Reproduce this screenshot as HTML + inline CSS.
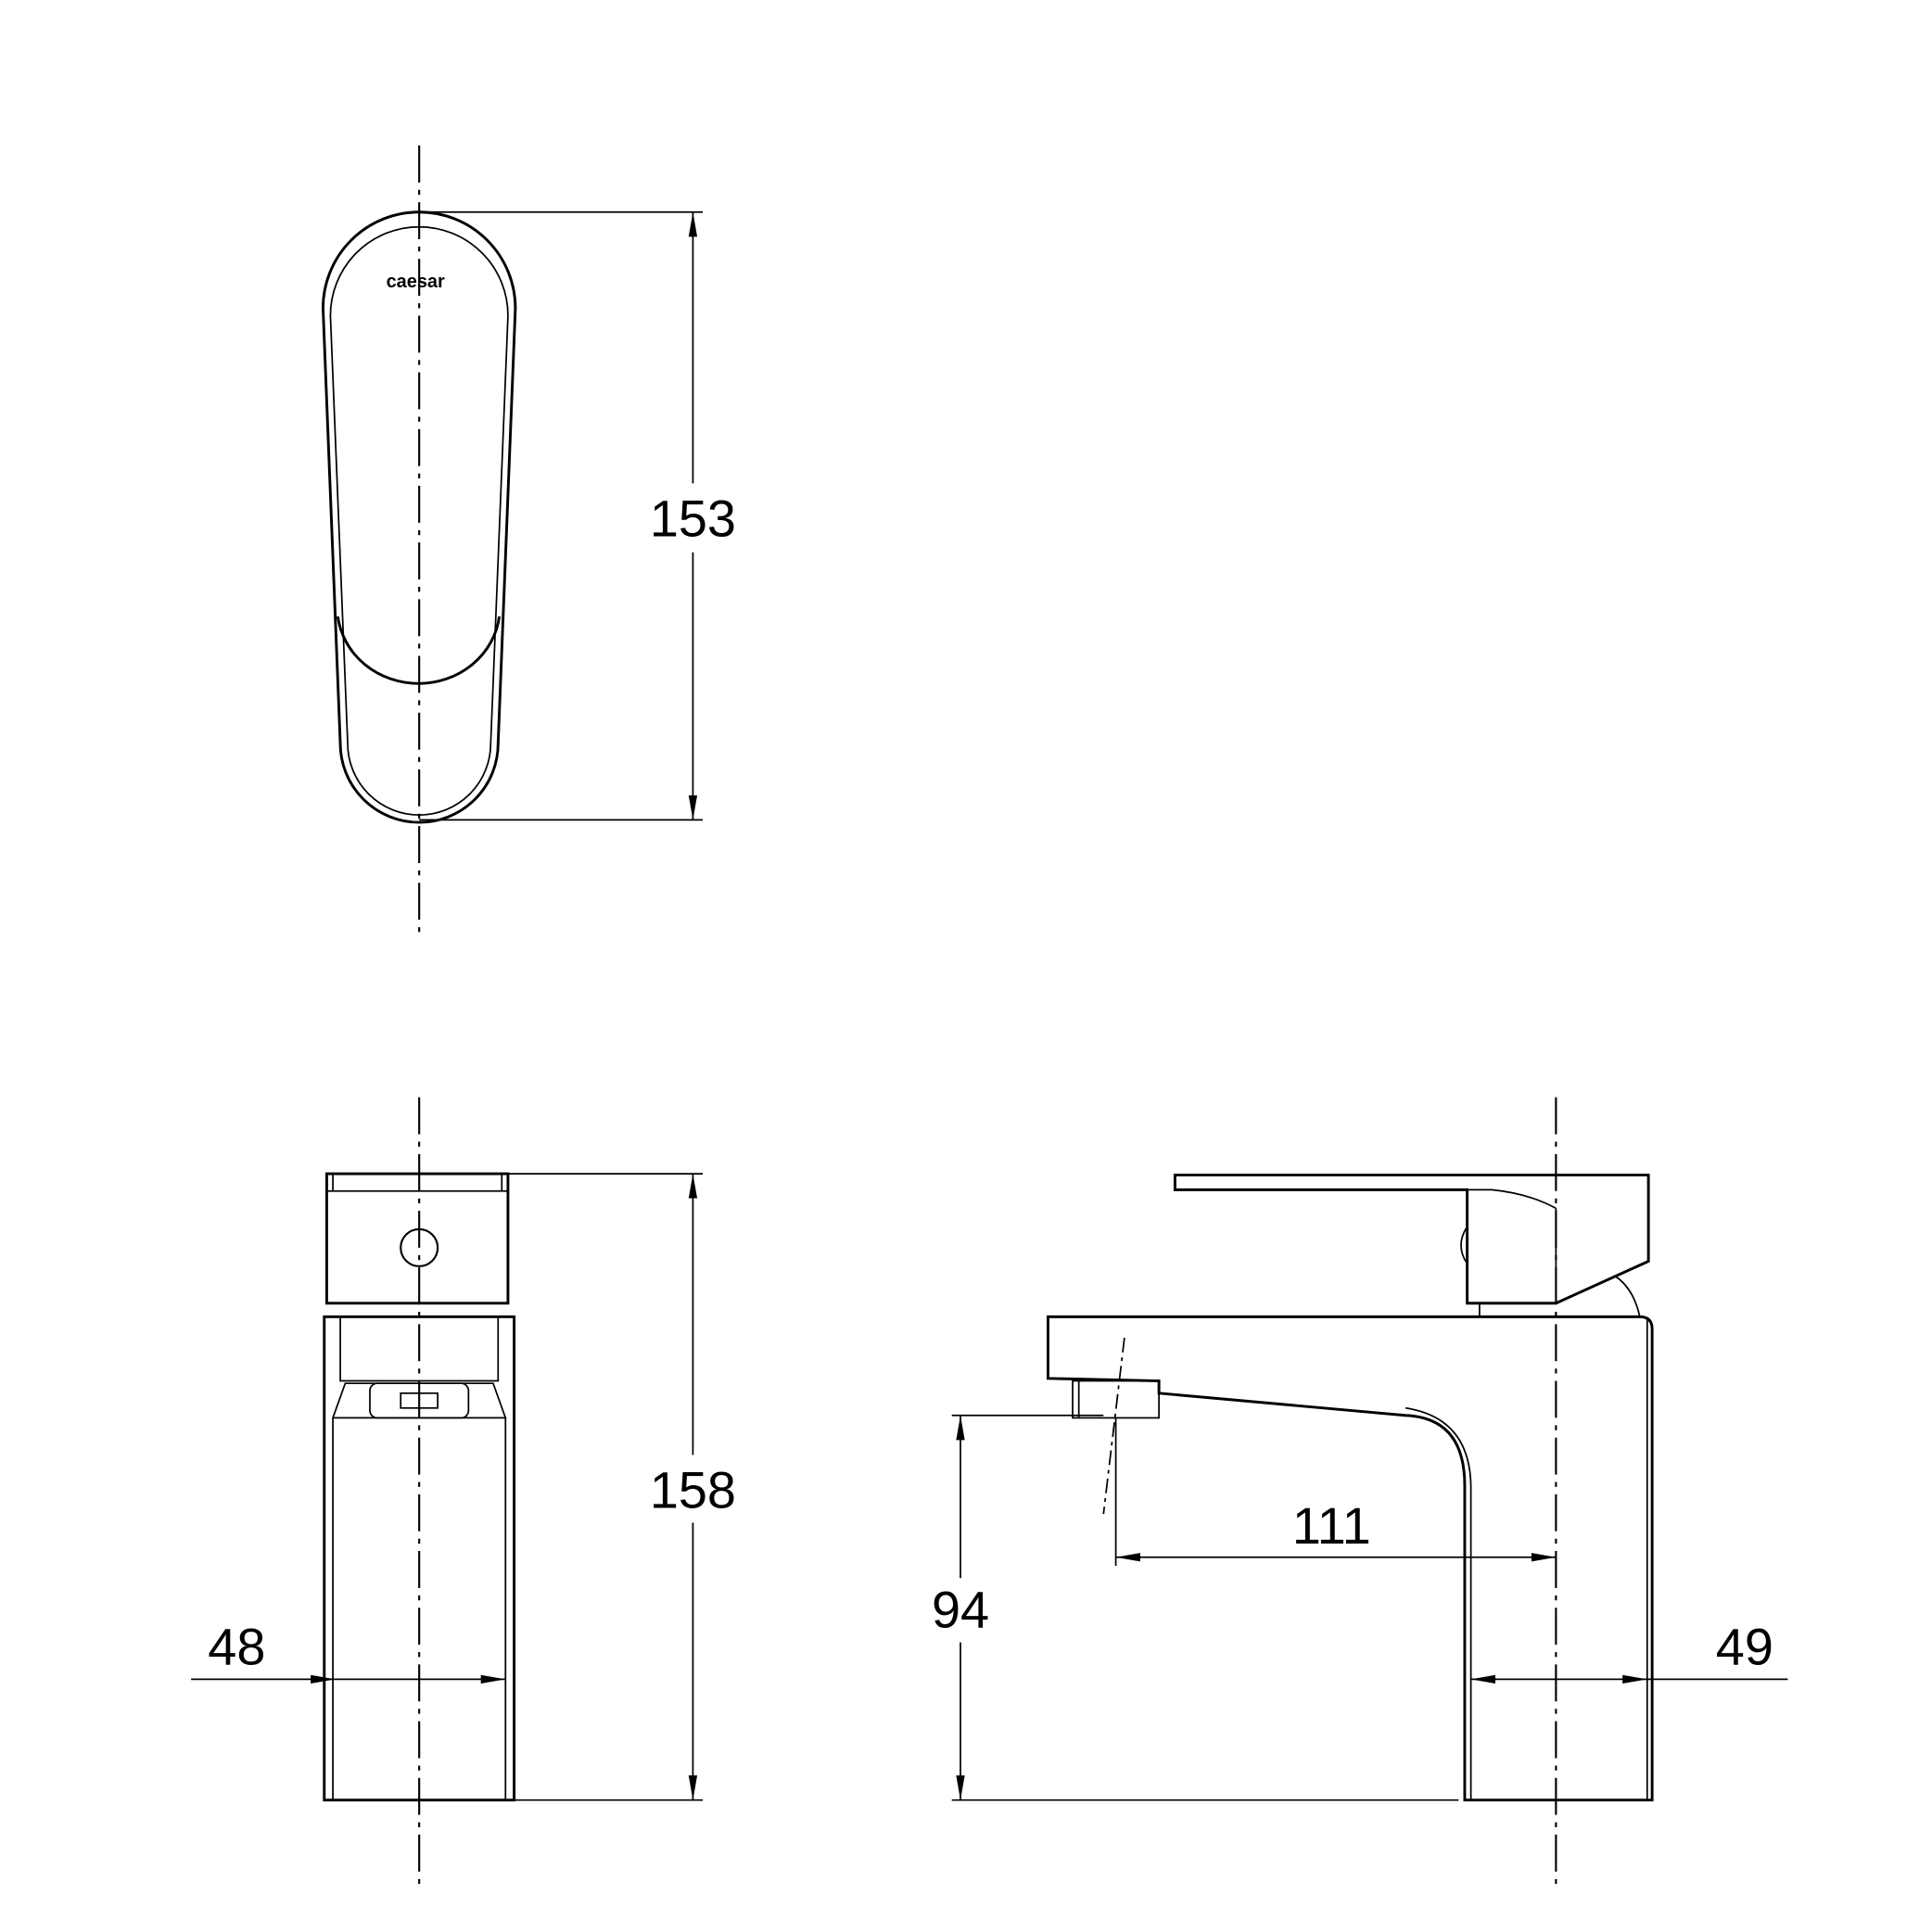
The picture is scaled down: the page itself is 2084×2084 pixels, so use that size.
<!DOCTYPE html>
<html><head><meta charset="utf-8"><style>
html,body{margin:0;padding:0;background:#fff;}
svg{display:block;}
text{font-family:"Liberation Sans",sans-serif;fill:#000;}
</style></head><body>
<svg width="2084" height="2084" viewBox="0 0 1567 1567" xmlns="http://www.w3.org/2000/svg">
<defs>
<marker id="a" viewBox="0 0 20 10" refX="20" refY="5" markerWidth="20" markerHeight="10" markerUnits="userSpaceOnUse" orient="auto-start-reverse"><path d="M0,1.5 L20,5 L0,8.5 Z" fill="#000"/></marker>
</defs>
<g fill="none" stroke="#000" stroke-width="2.2">
<g stroke-width="1.6" stroke-dasharray="30,6,4,6">
<line x1="340" y1="118" x2="340" y2="757"/>
<line x1="340" y1="890" x2="340" y2="1530"/>
<line x1="1262" y1="890" x2="1262" y2="1530"/>
</g>
<path d="M262,250 A78,78 0 0 1 418,250 L404,603 A64,64 0 0 1 276,603 Z"/>
<path d="M268,256 A72,72 0 0 1 412,256 L398,603 A58,58 0 0 1 282,603 Z" stroke-width="1.3"/>
<path d="M274,500 A66,62 0 0 0 405,500" />
<g stroke-width="1.3">
<line x1="340" y1="172" x2="570" y2="172"/>
<line x1="340" y1="665" x2="570" y2="665"/>
<line x1="562" y1="172" x2="562" y2="392" marker-start="url(#a)"/>
<line x1="562" y1="448" x2="562" y2="665" marker-end="url(#a)"/>
</g>
<rect x="265" y="952" width="147" height="105"/>
<line x1="265" y1="966" x2="412" y2="966" stroke-width="1.3"/>
<line x1="270" y1="952" x2="270" y2="966" stroke-width="1.3"/>
<line x1="407" y1="952" x2="407" y2="966" stroke-width="1.3"/>
<circle cx="340" cy="1012" r="15" stroke-width="1.6"/>
<rect x="263" y="1068" width="154" height="392"/>
<line x1="270" y1="1150" x2="270" y2="1460" stroke-width="1.3"/>
<line x1="410" y1="1150" x2="410" y2="1460" stroke-width="1.3"/>
<path d="M276,1068 L276,1120 L404,1120 L404,1068" stroke-width="1.3"/>
<path d="M270,1150 L280,1122 L400,1122 L410,1150 Z" stroke-width="1.3"/>
<rect x="300" y="1122" width="80" height="28" rx="6" stroke-width="1.3"/>
<rect x="325" y="1130" width="30" height="12" stroke-width="1.3"/>
<g stroke-width="1.3">
<line x1="412" y1="952" x2="570" y2="952"/>
<line x1="417" y1="1460" x2="570" y2="1460"/>
<line x1="562" y1="952" x2="562" y2="1180" marker-start="url(#a)"/>
<line x1="562" y1="1235" x2="562" y2="1460" marker-end="url(#a)"/>
<line x1="155" y1="1362" x2="272" y2="1362" marker-end="url(#a)"/>
<line x1="272" y1="1362" x2="410" y2="1362" marker-end="url(#a)"/>
</g>
<path d="M953,953 L1337,953 L1337,1023 L1262,1057 L1190,1057 L1190,965 L953,965 Z"/>
<path d="M1190,965 L1210,965 Q1240,968 1262,980" stroke-width="1.3"/>
<line x1="1262" y1="980" x2="1262" y2="1057" stroke-width="1.3"/>
<path d="M1190,995 Q1180,1010 1190,1025" stroke-width="1.3"/>
<path d="M1310,1035 Q1325,1045 1330,1068" stroke-width="1.3"/>
<line x1="1200" y1="1057" x2="1200" y2="1068" stroke-width="1.3"/>
<path d="M850,1068 L1330,1068 Q1340,1068 1340,1078 L1340,1460 L1188,1460 L1188,1205 Q1188,1150 1140,1148 L940,1130 L940,1120 L850,1118 Z"/>
<path d="M1140,1142 Q1192,1150 1193,1205 L1193,1460" stroke-width="1.3"/>
<line x1="1336" y1="1070" x2="1336" y2="1460" stroke-width="1.3"/>
<rect x="870" y="1120" width="70" height="30" stroke-width="1.3"/>
<line x1="875" y1="1120" x2="875" y2="1150" stroke-width="1.3"/>
<g stroke-width="1.3">
<line x1="912" y1="1085" x2="895" y2="1228" stroke-dasharray="12,4,3,4"/>
<line x1="905" y1="1150" x2="905" y2="1270"/>
<line x1="772" y1="1148" x2="895" y2="1148"/>
<line x1="772" y1="1460" x2="1183" y2="1460"/>
<line x1="779" y1="1148" x2="779" y2="1280" marker-start="url(#a)"/>
<line x1="779" y1="1332" x2="779" y2="1460" marker-end="url(#a)"/>
<line x1="905" y1="1263" x2="1262" y2="1263" marker-start="url(#a)" marker-end="url(#a)"/>
<line x1="1193" y1="1362" x2="1336" y2="1362" marker-start="url(#a)" marker-end="url(#a)"/>
<line x1="1336" y1="1362" x2="1450" y2="1362"/>
</g>
</g>
<text x="337" y="233" font-size="15" font-weight="bold" text-anchor="middle">caesar</text>
<g font-size="42" text-anchor="middle">
<text x="562" y="435">153</text>
<text x="562" y="1223">158</text>
<text x="192" y="1350">48</text>
<text x="779" y="1320">94</text>
<text x="1080" y="1252">111</text>
<text x="1415" y="1350">49</text>
</g>
</svg>
</body></html>
